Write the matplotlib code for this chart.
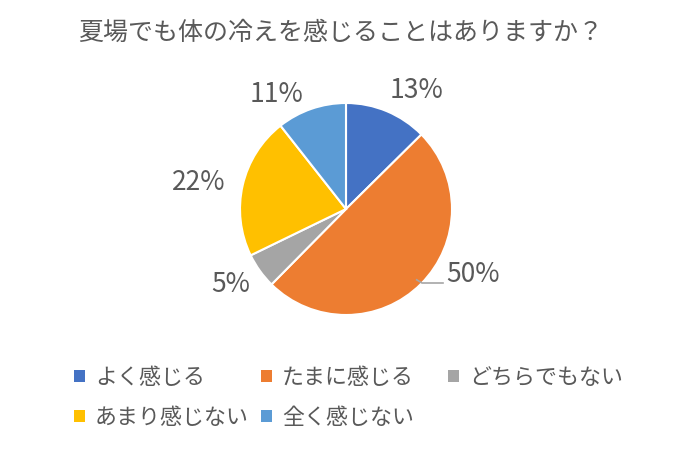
import matplotlib.pyplot as plt
from matplotlib.patches import Patch

plt.rcParams['font.family'] = ['Noto Sans CJK JP', 'DejaVu Sans']

TITLE = "夏場でも体の冷えを感じることはありますか？"
categories = ["よく感じる", "たまに感じる", "どちらでもない", "あまり感じない", "全く感じない"]
shares = [12.6, 49.8, 5.4, 21.6, 10.6]
colors = ["#4472C4", "#ED7D31", "#A5A5A5", "#FFC000", "#5B9BD5"]
TEXT = "#595959"

W, H = 692, 449
CX, CY, R = 346, 209, 106
# label centres in pixels (Excel best-fit placement)
label_px = [(417, 90), (473, 275), (231, 285), (199, 182), (276, 95)]


def to_data(px, py):
    return (px - CX) / R, (CY - py) / R


fig = plt.figure(figsize=(W / 100, H / 100), dpi=100)
half = 220
ax = fig.add_axes([(CX - half) / W, (H - CY - half) / H, 2 * half / W, 2 * half / H])
ax.axis('off')

wedges, _ = ax.pie(shares, colors=colors, startangle=90, counterclock=False,
                   radius=1, wedgeprops=dict(edgecolor='white', linewidth=1.5))
ax.set_xlim(-half / R, half / R)
ax.set_ylim(-half / R, half / R)
ax.set_aspect('equal')

for i, v in enumerate(shares):
    x, y = to_data(*label_px[i])
    ax.text(x, y, f"{round(v)}%", ha='center', va='center', fontsize=19, color=TEXT)

# leader line for the large slice
x0, y0 = to_data(422, 283)
x1, y1 = to_data(443, 283)
ax.plot([x0 - 0.05, x0, x1], [y0 + 0.03, y0, y1], color='#A6A6A6', lw=1.2)

fig.text(341 / W, 1 - 33 / H, TITLE, ha='center', va='center', fontsize=18, color=TEXT)

# legend laid out on a fixed grid like Excel does
col_x = [74, 261, 448]
row_y = [378, 418]
for i, (lab, c) in enumerate(zip(categories, colors)):
    fig.legend([Patch(facecolor=c, edgecolor='none')], [lab], loc='center left',
               bbox_to_anchor=(col_x[i % 3] / W, 1 - row_y[i // 3] / H),
               frameon=False, fontsize=15.8, labelcolor=TEXT, handlelength=0.5,
               handleheight=0.5, handletextpad=0.45, borderpad=0, borderaxespad=0)

fig.savefig("out.png", dpi=100)
